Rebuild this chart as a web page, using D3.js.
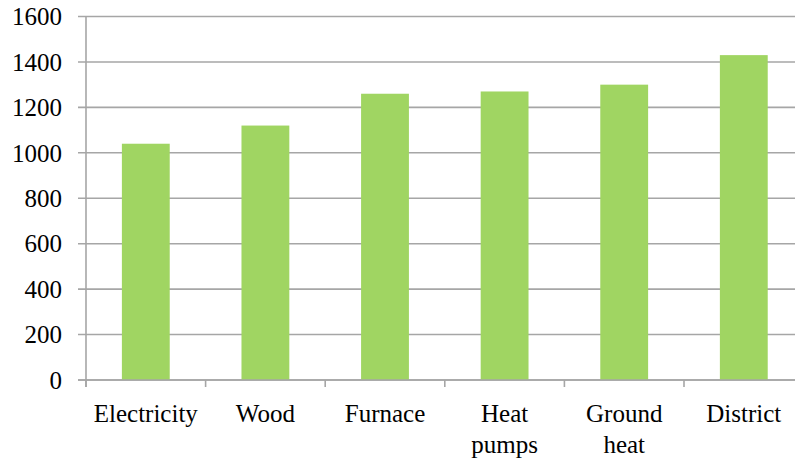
<!DOCTYPE html>
<html>
<head>
<meta charset="utf-8">
<script src="https://cdn.jsdelivr.net/npm/d3@7"></script>
<style>
  html, body { margin: 0; padding: 0; background: #fff; }
  svg { display: block; }
</style>
</head>
<body>
<svg id="chart" width="795" height="463"></svg>
<script>
// Heating categories and their values
const categories = ["Electricity", "Wood", "Furnace", "Heat pumps", "Ground heat", "District"];
const values = [1040, 1120, 1260, 1270, 1300, 1430];
const yTicks = [0, 200, 400, 600, 800, 1000, 1200, 1400, 1600];

const svg = d3.select("#chart");
const plotLeft = 86, plotRight = 803.6, plotTop = 16.5, plotBottom = 380;
const gridColor = "#a6a6a6";
const barColor = "#a0d562";
const fontSize = 25;
const fontFamily = "Liberation Serif";

const x = d3.scaleBand().domain(categories).range([plotLeft, plotRight]).paddingInner(0).paddingOuter(0);
const y = d3.scaleLinear().domain([0, 1600]).range([plotBottom, plotTop]);

// Horizontal gridlines with left tick stubs
svg.append("g").selectAll("line")
  .data(yTicks)
  .join("line")
  .attr("x1", plotLeft - 8).attr("x2", plotRight)
  .attr("y1", d => y(d)).attr("y2", d => y(d))
  .attr("stroke", gridColor).attr("stroke-width", 1.6);

// Y axis line
svg.append("line")
  .attr("x1", plotLeft).attr("x2", plotLeft)
  .attr("y1", plotTop).attr("y2", plotBottom + 7)
  .attr("stroke", gridColor).attr("stroke-width", 1.6);

// Y tick labels
svg.append("g").selectAll("text")
  .data(yTicks)
  .join("text")
  .attr("x", 62).attr("y", d => y(d))
  .attr("dy", "0.35em")
  .attr("text-anchor", "end")
  .style("font-family", fontFamily)
  .style("font-size", fontSize + "px")
  .attr("fill", "#000")
  .text(d => d);

// Category boundary ticks along the bottom
const boundaries = categories.map(c => x(c)).concat([plotRight]);
svg.append("g").selectAll("line")
  .data(boundaries)
  .join("line")
  .attr("x1", d => d).attr("x2", d => d)
  .attr("y1", plotBottom).attr("y2", plotBottom + 7)
  .attr("stroke", gridColor).attr("stroke-width", 1.6);

// Bars
const barW = x.bandwidth() * 0.4;
svg.append("g").selectAll("rect")
  .data(categories.map((c, i) => ({ c, v: values[i] })))
  .join("rect")
  .attr("x", d => x(d.c) + (x.bandwidth() - barW) / 2)
  .attr("width", barW)
  .attr("y", d => y(d.v))
  .attr("height", d => y(0) - y(d.v))
  .attr("fill", barColor);

// Redraw baseline over bars
svg.append("line")
  .attr("x1", plotLeft - 8).attr("x2", plotRight)
  .attr("y1", y(0)).attr("y2", y(0))
  .attr("stroke", gridColor).attr("stroke-width", 1.6);

// Category labels, wrapped onto two lines where they contain a space
const lab = svg.append("g").selectAll("text")
  .data(categories)
  .join("text")
  .attr("x", d => x(d) + x.bandwidth() / 2)
  .attr("y", 422)
  .attr("text-anchor", "middle")
  .style("font-family", fontFamily)
  .style("font-size", fontSize + "px")
  .attr("fill", "#000");
lab.each(function(d) {
  const words = d.split(" ");
  const t = d3.select(this);
  const cx = +t.attr("x");
  words.forEach((w, i) => {
    t.append("tspan").attr("x", cx).attr("dy", i === 0 ? 0 : 31).text(w);
  });
});
</script>
</body>
</html>
